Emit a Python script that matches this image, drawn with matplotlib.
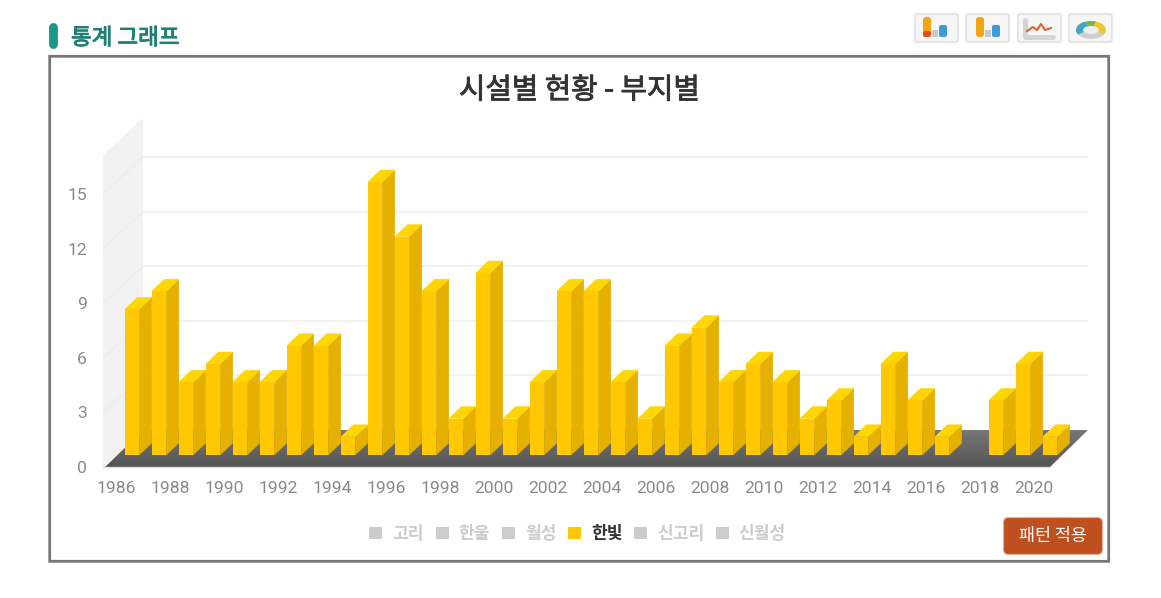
import matplotlib
matplotlib.use('Agg')
import matplotlib.pyplot as plt
from matplotlib import font_manager
from matplotlib import patheffects
from matplotlib.patches import Polygon, Rectangle, FancyBboxPatch
import numpy as np

# the CJK collection may register under only one of its names
installed = {f.name for f in font_manager.fontManager.ttflist}
cjk = [n for n in ['Noto Sans CJK KR', 'Noto Sans CJK JP', 'Noto Sans CJK SC', 'Noto Sans CJK TC'] if n in installed]
plt.rcParams['font.family'] = cjk

# ---------------- data ----------------
years = list(range(1986, 2021))
values = [8, 9, 4, 5, 4, 4, 6, 6, 1, 15, 12, 9, 2, 10, 2, 4, 9, 9, 4, 2,
          6, 7, 4, 5, 4, 2, 3, 1, 5, 3, 1, 0, 3, 5, 1]
x_ticks = list(range(1986, 2021, 2))
y_ticks = [0, 3, 6, 9, 12, 15]
legend_labels = ['고리', '한울', '월성', '한빛', '신고리', '신월성']
legend_active = '한빛'

# ---------------- layout (pixels) ----------------
W, H = 1161, 598
PX_YEAR = 27.0    # px per year
PX_UNIT = 18.2    # px per value unit
X_1986 = 116      # px of the 1986 tick
BAR_YELLOW = '#ffc800'
BAR_SIDE = '#e5b000'
BAR_TOP = '#ffd600'

fig = plt.figure(figsize=(W / 100, H / 100), dpi=100, facecolor='white')

# page chrome, drawn in pixel coordinates
page = fig.add_axes([0, 0, 1, 1], zorder=0)
page.set_xlim(0, W)
page.set_ylim(H, 0)
page.axis('off')

# plot axes: years on x, value on y
left, right, bottom, top = 103, 1088, 467, 119
ax = fig.add_axes([left / W, 1 - bottom / H, (right - left) / W, (bottom - top) / H], zorder=1)
ax.set_xlim(1986 + (left - X_1986) / PX_YEAR, 1986 + (right - X_1986) / PX_YEAR)
ax.set_ylim(0, (bottom - top) / PX_UNIT)
ax.patch.set_alpha(0)
for s in ax.spines.values():
    s.set_visible(False)


def dx(px):
    return px / PX_YEAR


def dy(px):
    return px / PX_UNIT


xmin, xmax = ax.get_xlim()
depth_x, depth_y = dx(40), dy(37)
wall_top = dy(312)

# side wall and floor
ax.add_patch(Polygon([(xmin, 0), (xmin + depth_x, depth_y), (xmin + depth_x, depth_y + wall_top),
                      (xmin, wall_top)], closed=True, fc='#f2f2f2', ec='none', zorder=1))
for v in y_ticks[1:]:
    ax.plot([xmin, xmin + depth_x], [v, v + depth_y], color='#ececec', lw=0.8, zorder=2)
    ax.plot([xmin + depth_x, xmax], [v + depth_y, v + depth_y], color='#f1f1f1', lw=1.3, zorder=2)

floor = Polygon([(xmin + dx(2), 0), (xmax - dx(38), 0), (xmax, depth_y), (xmin + depth_x, depth_y)],
                closed=True, fc='none', ec='none', zorder=3)
ax.add_patch(floor)
grad = np.linspace(0, 1, 64).reshape(-1, 1)
im = ax.imshow(grad, extent=[xmin, xmax, 0, depth_y], origin='lower', aspect='auto',
               cmap=matplotlib.colors.LinearSegmentedColormap.from_list('floor', ['#545454', '#787878']),
               zorder=3)
im.set_clip_path(floor)
ax.set_xlim(xmin, xmax)
ax.set_ylim(0, (bottom - top) / PX_UNIT)
ax.plot([xmin, xmax - dx(38)], [0, 0], color='#dddddd', lw=1, zorder=3, clip_on=False)

# bars
bar_w = 14.4 / PX_YEAR
bar_dx, bar_dy = dx(16), dy(12)
depth_bx, depth_by = dx(12.6), dy(12)
xs = np.array(years) + bar_dx
heights = np.array(values, dtype=float)
ax.bar(xs, heights, width=bar_w, bottom=bar_dy, color=[BAR_YELLOW if v > 0 else 'none' for v in values],
       edgecolor='none', zorder=6)
for x, v in zip(xs, values):
    if v == 0:
        continue
    x0, x1 = x - bar_w / 2, x + bar_w / 2
    y0, y1 = bar_dy, bar_dy + v
    ax.add_patch(Polygon([(x1, y0), (x1 + depth_bx, y0 + depth_by), (x1 + depth_bx, y1 + depth_by), (x1, y1)],
                         closed=True, fc=BAR_SIDE, ec=BAR_SIDE, lw=0.3, zorder=5))
    ax.add_patch(Polygon([(x0, y1), (x0 + depth_bx, y1 + depth_by), (x1 + depth_bx, y1 + depth_by), (x1, y1)],
                         closed=True, fc=BAR_TOP, ec=BAR_TOP, lw=0.3, zorder=5))

ax.set_xticks(x_ticks)
ax.set_yticks(y_ticks)
ax.tick_params(axis='both', length=0, labelcolor='#8a8a8a', labelsize=12.6)
ax.tick_params(axis='x', pad=10)
ax.tick_params(axis='y', pad=11.5)
for lab in ax.get_xticklabels() + ax.get_yticklabels():
    lab.set_fontfamily('Roboto')

# frame
page.add_patch(Rectangle((49.7, 56.3), 1059, 505, fc='white', ec='#777777', lw=2, snap=False))

# heading, regular weight thickened a little: the bold face is too heavy here
semi = [patheffects.withStroke(linewidth=0.6, foreground='#333333')]
page.add_patch(FancyBboxPatch((50.5, 24.5), 6, 23, boxstyle='round,pad=0,rounding_size=3',
                              fc='#169a85', ec='#169a85', lw=2))
page.text(71, 38, '통계 그래프', fontsize=16.2, color='#1f7f74', va='center', ha='left',
          path_effects=[patheffects.withStroke(linewidth=0.7, foreground='#1f7f74')])
page.text(579, 90.5, '시설별 현황 - 부지별', fontsize=20.7, color='#333333', va='center', ha='center',
          path_effects=semi)

# chart-type buttons
for bx in [914, 965, 1017, 1068]:
    page.add_patch(FancyBboxPatch((bx + 1, 14), 43, 28, boxstyle='round,pad=0,rounding_size=2',
                                  fc='#f6f6f6', ec='#dcdcdc', lw=1))
for bx in [923, 976]:
    page.add_patch(FancyBboxPatch((bx, 17), 8, 20, boxstyle='round,pad=0,rounding_size=3',
                                  fc='#f5a511', ec='none'))
    page.add_patch(Rectangle((bx + 9, 30), 6, 7, fc='#c9c9c9', ec='none'))
    page.add_patch(FancyBboxPatch((bx + 16, 25), 8, 12, boxstyle='round,pad=0,rounding_size=2',
                                  fc='#3f9bd8', ec='none'))
page.add_patch(FancyBboxPatch((923, 31), 8, 6, boxstyle='round,pad=0,rounding_size=2', fc='#e2501e', ec='none'))
page.plot([1025, 1025, 1053], [20, 37, 37], color='#d4d4d4', lw=3.5, solid_capstyle='round')
page.plot([1027, 1033, 1037, 1041, 1045, 1051], [31, 27, 30, 24, 30, 28], color='#e0622a', lw=1.5)

# pie icon: flat ring seen at an angle
page.fill(1091 + 15 * np.cos(np.linspace(0, 2 * np.pi, 60)), 30 + 9 * np.sin(np.linspace(0, 2 * np.pi, 60)),
          color='#eeeeee', lw=0)
for a0, a1, c in [(30, 150, '#cfcfcf'), (150, 250, '#3ea5c9'), (250, 290, '#7ab648'), (290, 390, '#f2c82e')]:
    t = np.radians(np.linspace(a0, a1, 20))
    page.fill(np.r_[1091 + 15 * np.cos(t), 1091 + 8 * np.cos(t[::-1])],
              np.r_[30 + 9 * np.sin(t), 30 + 4 * np.sin(t[::-1])], color=c, lw=0)

# legend
square_x = [369, 436, 502, 568, 634, 716]
text_x = [392, 458, 525, 591, 657, 738]
for sx, tx, lab in zip(square_x, text_x, legend_labels):
    on = lab == legend_active
    page.add_patch(Rectangle((sx, 527), 13, 12, fc=BAR_YELLOW if on else '#cccccc', ec='none'))
    page.text(tx, 534, lab, fontsize=12.3, fontweight='bold', color='#333333' if on else '#cccccc',
              va='center', ha='left')

# pattern button
page.add_patch(FancyBboxPatch((1003.5, 517.5), 99, 37, boxstyle='round,pad=0,rounding_size=5',
                              fc='#c04f20', ec='#e8b09a', lw=0.8))
page.text(1053, 536, '패턴 적용', fontsize=12.5, color='white', va='center', ha='center')

fig.savefig('out.png', dpi=100, facecolor='white')
